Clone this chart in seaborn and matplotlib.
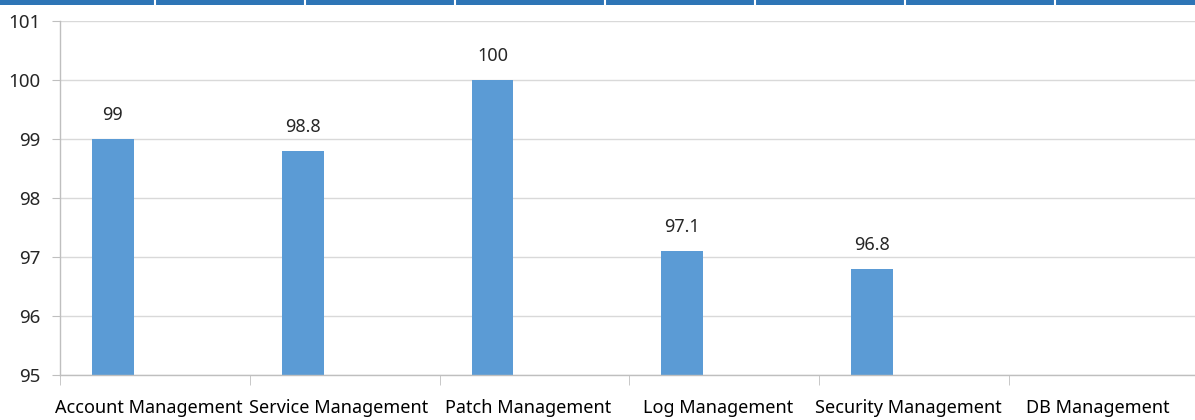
import numpy as np
import pandas as pd
import matplotlib
matplotlib.use('Agg')
import matplotlib.pyplot as plt
import matplotlib.transforms as mtrans
import seaborn as sns

# dados
categorias = ['Account Management', 'Service Management', 'Patch Management',
              'Log Management', 'Security Management', 'DB Management']
valores = [99, 98.8, 100, 97.1, 96.8, np.nan]
series = ['S1', 'S2', 'S3']  # Excel-style cluster: only the first series has values
y_ticks = [95, 96, 97, 98, 99, 100, 101]

df = pd.DataFrame({'categoria': categorias, 'valor': valores, 'serie': series[0]})

sns.set_style('white')
plt.rcParams['font.family'] = ['Noto Sans', 'DejaVu Sans']

fig = plt.figure(figsize=(11.95, 4.2), dpi=100)
ax = fig.add_axes([60 / 1195, 1 - 375 / 420, 1 - 60 / 1195 + 0.003, (375 - 21) / 420])

sns.barplot(data=df, x='categoria', y='valor', hue='serie', hue_order=series,
            order=categorias, palette=['#5B9BD5'] * 3, width=0.663, gap=0,
            dodge=True, legend=False, ax=ax, saturation=1, linewidth=0)

# rótulos de dados
for c in ax.containers:
    labels = ['' if np.isnan(v) else f'{v:g}' for v in c.datavalues]
    ax.bar_label(c, labels=labels, padding=11, fontsize=13, color='#262626')

ax.set_ylim(y_ticks[0], y_ticks[-1])
ax.set_yticks(y_ticks)
ax.set_xlim(-0.5, len(categorias) - 0.5)
ax.yaxis.grid(True, color='#d9d9d9', linewidth=1)
ax.set_axisbelow(True)
ax.set_xlabel('')
ax.set_ylabel('')

for s in ['top', 'right']:
    ax.spines[s].set_visible(False)
for s in ['left', 'bottom']:
    ax.spines[s].set_color('#bfbfbf')
    ax.spines[s].set_linewidth(1)

ax.set_xticks(np.arange(len(categorias) + 1) - 0.5, minor=True)
ax.tick_params(axis='x', which='major', length=0, pad=17, labelsize=13, labelcolor='#000000')
ax.tick_params(axis='x', which='minor', length=7, color='#bfbfbf', direction='out', bottom=True)
ax.tick_params(axis='y', length=6, color='#bfbfbf', labelsize=13.5, labelcolor='#262626',
               left=True, pad=8)

# rótulos do eixo x ligeiramente à esquerda, como no original
desloc = mtrans.ScaledTranslation(-6 / 100, 0, fig.dpi_scale_trans)
for lbl in ax.get_xticklabels():
    lbl.set_transform(lbl.get_transform() + desloc)

# faixa azul do topo (cabeçalho cortado)
top = fig.add_axes([0, 1 - 5 / 420, 1, 5 / 420])
top.set_facecolor('#2E75B6')
top.set_xlim(0, 1195)
for xs in range(155, 1195, 150):
    top.axvline(xs, color='white', linewidth=1.5)
top.set_xticks([])
top.set_yticks([])
for s in top.spines.values():
    s.set_visible(False)

fig.savefig('out.png', dpi=100)
